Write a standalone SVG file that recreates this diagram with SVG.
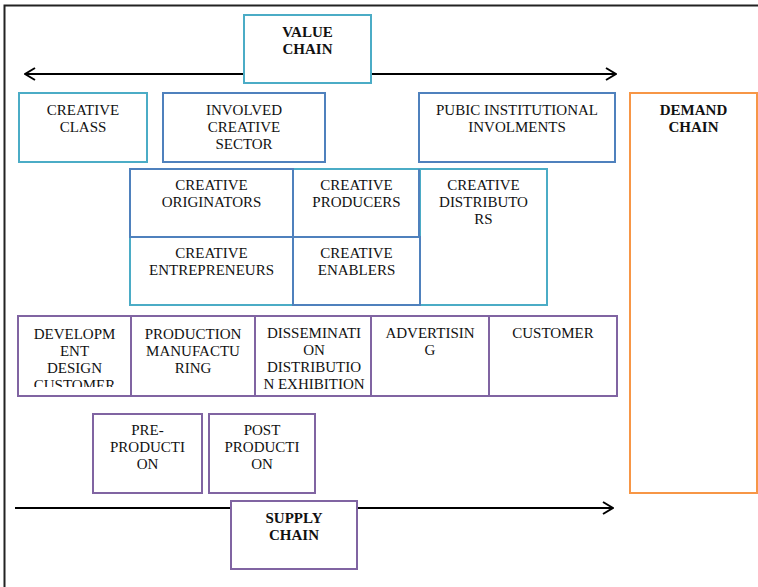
<svg xmlns="http://www.w3.org/2000/svg" width="758" height="587" viewBox="0 0 758 587">
<style>
text{font-family:"Liberation Serif","Times New Roman",serif;font-size:15px;fill:#111;text-anchor:middle}
.b{font-weight:bold}
rect{fill:#fff;stroke-width:2}
.lb{stroke:#4bacc6}
.db{stroke:#4f81bd}
.pu{stroke:#8064a2}
.or{stroke:#f79646}
.ln{stroke:#000;stroke-width:2;fill:none}
</style>
<defs>
<marker id="ah" viewBox="0 0 12 14" refX="11" refY="7" markerWidth="12" markerHeight="14" markerUnits="userSpaceOnUse" orient="auto-start-reverse">
<path d="M1,1 L11,7 L1,13" fill="none" stroke="#000" stroke-width="2"/>
</marker>
<clipPath id="devclip"><rect x="18" y="316" width="113" height="71"/></clipPath>
</defs>
<path d="M4.5,800 L4.5,5.5 L800,5.5" fill="none" stroke="#222" stroke-width="2"/>
<g id="connectors">
<line class="ln" x1="25" y1="74" x2="616" y2="74" marker-start="url(#ah)" marker-end="url(#ah)"/>
<line class="ln" x1="15" y1="508" x2="613" y2="508" marker-end="url(#ah)"/>
</g>
<g id="value-chain"><rect class="lb" x="244" y="15" width="127" height="68"/><text class="b" x="307.5" y="37">VALUE</text><text class="b" x="307.5" y="54">CHAIN</text></g>
<g id="creative-class"><rect class="lb" x="19" y="93" width="128" height="69"/><text x="83" y="115">CREATIVE</text><text x="83" y="132">CLASS</text></g>
<g id="involved-creative-sector"><rect class="db" x="163" y="93" width="162" height="69"/><text x="244" y="115">INVOLVED</text><text x="244" y="132">CREATIVE</text><text x="244" y="149">SECTOR</text></g>
<g id="pubic-institutional"><rect class="db" x="419" y="93" width="196" height="69"/><text x="517" y="115">PUBIC INSTITUTIONAL</text><text x="517" y="132">INVOLMENTS</text></g>
<g id="demand-chain"><rect class="or" x="630" y="93" width="127" height="400"/><text class="b" x="693.5" y="115">DEMAND</text><text class="b" x="693.5" y="132">CHAIN</text></g>
<g id="creative-entrepreneurs"><rect class="lb" x="130" y="237" width="163" height="68"/><text x="211.5" y="258">CREATIVE</text><text x="211.5" y="275">ENTREPRENEURS</text></g>
<g id="creative-distributors"><rect class="lb" x="420" y="169" width="127" height="136"/><text x="483.5" y="190">CREATIVE</text><text x="483.5" y="207">DISTRIBUTO</text><text x="483.5" y="224">RS</text></g>
<g id="creative-producers"><rect class="lb" x="293" y="169" width="127" height="68"/><line x1="293" y1="169" x2="293" y2="237" stroke="#4f81bd" stroke-width="2"/><line x1="419" y1="169" x2="419" y2="237" stroke="#4f81bd" stroke-width="2"/><text x="356.5" y="190">CREATIVE</text><text x="356.5" y="207">PRODUCERS</text></g>
<g id="creative-originators"><rect class="db" x="130" y="169" width="163" height="68"/><text x="211.5" y="190">CREATIVE</text><text x="211.5" y="207">ORIGINATORS</text></g>
<g id="creative-enablers"><rect class="db" x="293" y="237" width="127" height="68"/><text x="356.5" y="258">CREATIVE</text><text x="356.5" y="275">ENABLERS</text></g>
<g id="development"><rect class="pu" x="18" y="316" width="113" height="80"/><g clip-path="url(#devclip)"><text x="74.5" y="339">DEVELOPM</text><text x="74.5" y="356">ENT</text><text x="74.5" y="373">DESIGN</text><text x="74.5" y="390">CUSTOMER</text></g></g>
<g id="production"><rect class="pu" x="131" y="316" width="124" height="80"/><text x="193" y="339">PRODUCTION</text><text x="193" y="356">MANUFACTU</text><text x="193" y="373">RING</text></g>
<g id="dissemination"><rect class="pu" x="255" y="316" width="118" height="80"/><text x="314" y="338">DISSEMINATI</text><text x="314" y="355">ON</text><text x="314" y="372">DISTRIBUTIO</text><text x="314" y="389">N EXHIBITION</text></g>
<g id="advertising"><rect class="pu" x="371" y="316" width="118" height="80"/><text x="430" y="338">ADVERTISIN</text><text x="430" y="355">G</text></g>
<g id="customer"><rect class="pu" x="489" y="316" width="128" height="80"/><text x="553" y="338">CUSTOMER</text></g>
<g id="pre-production"><rect class="pu" x="93" y="414" width="109" height="79"/><text x="147.5" y="435">PRE-</text><text x="147.5" y="452">PRODUCTI</text><text x="147.5" y="469">ON</text></g>
<g id="post-production"><rect class="pu" x="209" y="414" width="106" height="79"/><text x="262" y="435">POST</text><text x="262" y="452">PRODUCTI</text><text x="262" y="469">ON</text></g>
<g id="supply-chain"><rect class="pu" x="231" y="501" width="126" height="68"/><text class="b" x="294" y="523">SUPPLY</text><text class="b" x="294" y="540">CHAIN</text></g>
</svg>
